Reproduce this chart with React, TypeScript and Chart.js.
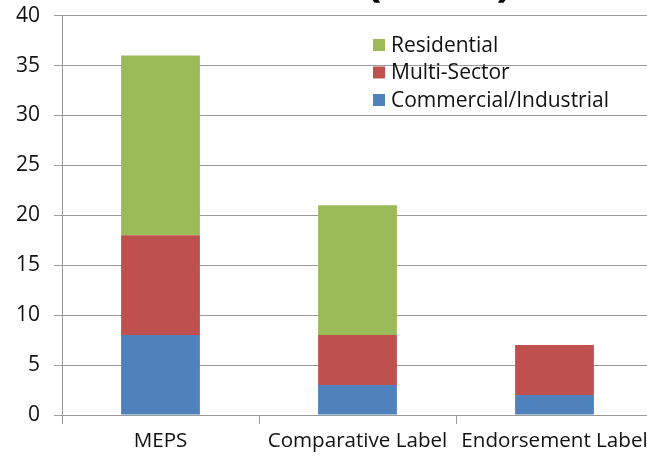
import React, { useEffect, useRef } from "react";
import { Chart, registerables } from "chart.js";

Chart.register(...registerables);

const categories = ["MEPS", "Comparative Label", "Endorsement Label"];
const commercialIndustrial = [8, 3, 2];
const multiSector = [10, 5, 5];
const residential = [18, 13, 0];
const seriesNames = ["Commercial/Industrial", "Multi-Sector", "Residential"];
const seriesColors = ["#4F81BD", "#C0504D", "#9BBB59"];
const yMin = 0;
const yMax = 40;
const yStep = 5;

const FONT = "'Open Sans', 'Noto Sans', sans-serif";
const SHIFT = 11;

const legendPlugin = {
  id: "insideLegend",
  afterDraw(chart: any) {
    const ctx = chart.ctx;
    const items = chart.data.datasets.map((d: any) => ({ label: d.label, color: d.backgroundColor })).reverse();
    const x0 = 373;
    const y0 = 45 + SHIFT;
    const rowH = 27.5;
    ctx.save();
    ctx.font = `21px ${FONT}`;
    ctx.textBaseline = "middle";
    ctx.textAlign = "left";
    items.forEach((it: any, i: number) => {
      const cy = y0 + i * rowH;
      ctx.fillStyle = it.color;
      ctx.fillRect(x0, cy - 6, 12, 12);
      ctx.fillStyle = "#111";
      ctx.fillText(it.label, x0 + 18, cy + 1);
    });
    ctx.restore();
  },
};

export default function App() {
  const ref = useRef<HTMLCanvasElement | null>(null);

  useEffect(() => {
    document.body.style.margin = "0";
    document.body.style.overflow = "hidden";
    if (!ref.current) return;
    const chart = new Chart(ref.current, {
      type: "bar",
      data: {
        labels: categories,
        datasets: [
          { label: seriesNames[0], data: commercialIndustrial, backgroundColor: seriesColors[0] },
          { label: seriesNames[1], data: multiSector, backgroundColor: seriesColors[1] },
          { label: seriesNames[2], data: residential, backgroundColor: seriesColors[2] },
        ],
      },
      options: {
        responsive: false,
        animation: false,
        devicePixelRatio: 1,
        layout: { padding: { top: 2, right: 7, bottom: 0, left: 0 } },
        datasets: { bar: { barPercentage: 0.8, categoryPercentage: 0.5 } },
        plugins: {
          legend: { display: false },
          tooltip: { enabled: false },
          title: { display: false },
        },
        scales: {
          x: {
            stacked: true,
            grid: {
              display: true,
              drawOnChartArea: false,
              drawTicks: true,
              tickLength: 9,
              color: "#9a9a9a",
              lineWidth: 1,
            },
            border: { display: true, color: "#9a9a9a", width: 1 },
            ticks: {
              color: "#111",
              font: { family: FONT, size: 20.6 },
              padding: 5,
              maxRotation: 0,
              autoSkip: false,
            },
            afterFit: (s: any) => {
              s.height = 44;
            },
          },
          y: {
            stacked: true,
            min: yMin,
            max: yMax,
            ticks: {
              stepSize: yStep,
              color: "#111",
              font: { family: FONT, size: 21 },
              padding: 14,
            },
            grid: {
              color: "#9a9a9a",
              lineWidth: 1,
              tickLength: 8,
              drawTicks: true,
            },
            border: { display: true, color: "#9a9a9a", width: 1 },
            afterFit: (s: any) => {
              s.width = 62;
            },
          },
        },
      },
      plugins: [legendPlugin],
    });
    return () => chart.destroy();
  }, []);

  return (
    <div style={{ position: "fixed", left: 0, top: 0, width: 647, height: 459, overflow: "hidden", background: "#fff" }}>
      <canvas
        ref={ref}
        width={660}
        height={459 + SHIFT}
        style={{ position: "absolute", left: 0, top: -SHIFT, width: 660, height: 459 + SHIFT }}
      />
      <div
        style={{
          position: "absolute",
          left: 366,
          top: -46,
          width: 146,
          height: 52,
          display: "flex",
          justifyContent: "space-between",
          fontFamily: FONT,
          fontWeight: "bold",
          fontSize: 46,
          lineHeight: "46px",
          color: "#000",
        }}
      >
        <span>(</span>
        <span>)</span>
      </div>
    </div>
  );
}
